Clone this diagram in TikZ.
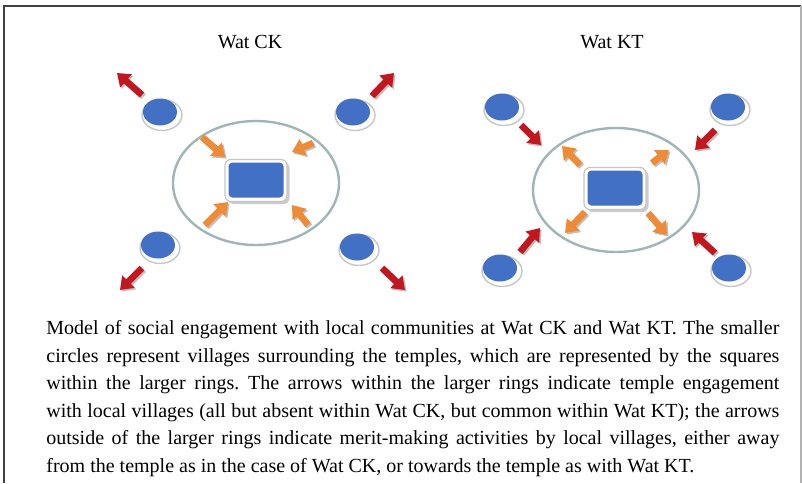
\documentclass[tikz,border=0pt]{standalone}
\usepackage{fontspec}
\setmainfont{Liberation Serif}
\usetikzlibrary{calc,shapes.geometric,arrows.meta}

\definecolor{villageblue}{RGB}{66,112,196}
\definecolor{ringgray}{RGB}{160,182,182}
\definecolor{meritred}{RGB}{196,22,30}
\definecolor{reachorange}{RGB}{240,138,52}

\tikzset{
  village/.style={ellipse, fill=villageblue, minimum width=17pt, minimum height=13.5pt, inner sep=0pt},
  rim/.style={ellipse, fill=white, draw=gray!45, line width=0.7pt, minimum width=20pt, minimum height=15.5pt, inner sep=0pt},
  ring/.style={ellipse, draw=ringgray, line width=1.2pt, minimum width=83pt, minimum height=62pt, inner sep=0pt},
  temple/.style={rectangle, rounded corners=2pt, fill=villageblue, minimum width=27.5pt, minimum height=17.5pt, inner sep=0pt},
  templerim/.style={rectangle, rounded corners=3pt, fill=white, draw=gray!45, line width=0.6pt, minimum width=31pt, minimum height=21pt, inner sep=0pt},
  blockarrow/.style={line width=3.3pt, -{Triangle[length=6pt,width=8.5pt]},
    preaction={draw=gray!50, line width=3.3pt, -{Triangle[length=6pt,width=8.5pt]}, transform canvas={shift={(0.8pt,-0.8pt)}}}},
  outarrow/.style={blockarrow, draw=meritred},
  inarrow/.style={blockarrow, draw=reachorange},
  title/.style={inner sep=0pt, font=\fontsize{10}{12}\selectfont},
  caption/.style={text width=366.5pt, align=justify, inner sep=0pt, font=\fontsize{10}{13.8}\selectfont\frenchspacing},
}

\begin{document}
\begin{tikzpicture}[x=0.5pt,y=-0.5pt]
  \useasboundingbox (0,0) rectangle (802,483);
  % frame
  \draw[line width=1pt, black!75] (4,483) -- (4,6) -- (801,6);
  \draw[line width=0.8pt, black!30] (801,6) -- (801,483);

  \node[title] (ckTitle) at (250,42) {Wat CK};
  \node[title] (ktTitle) at (612,42) {Wat KT};

  % rings with the temples in the middle
  \node[ring] (ckRing) at (256,183) {};
  \node[ring] (ktRing) at (616,190) {};
  \foreach \t/\x/\y in {ckTemple/256/180, ktTemple/615/188}{
    \node[templerim, fill=gray!40, draw=none] (\t-shade) at (\x+2.5,\y+3) {};
    \node[templerim] (\t-rim) at (\x,\y+0.5) {};
    \node[temple] (\t) at (\x,\y) {};
  }

  % villages
  \foreach \v/\x/\y in {ckNW/160/112, ckNE/353/112, ckSW/158/245, ckSE/357/247,
                        ktNW/502/107, ktNE/728/107, ktSW/500/268, ktSE/729/268}{
    \node[rim] (\v-rim) at (\x+2,\y+3) {};
    \node[village] (\v) at (\x,\y) {};
  }

  % merit-making arrows (red)
  \foreach \v/\ax/\ay/\bx/\by in {ckNW/-18/-17/-43/-39, ckNE/19/-16/41/-39,
                                  ckSW/-16/23/-38/45, ckSE/25/21/48/43,
                                  ktNW/19/18/39/38, ktNE/-13/23/-33/43,
                                  ktSW/20/-16/40/-40, ktSE/-14/-15/-37/-36}
    \draw[outarrow] ($(\v)+(\ax,\ay)$) -- ($(\v)+(\bx,\by)$);

  % temple engagement arrows (orange)
  \foreach \t/\ax/\ay/\bx/\by in {ckTemple/-54/-43/-31/-23, ckTemple/57/-37/36/-28,
                                  ckTemple/-51/45/-28/22, ckTemple/52/45/36/25,
                                  ktTemple/-35/-23/-53/-42, ktTemple/37/-25/54/-38,
                                  ktTemple/-30/24/-50/45, ktTemple/33/25/52/47}
    \draw[inarrow] ($(\t)+(\ax,\ay)$) -- ($(\t)+(\bx,\by)$);

  \node[caption, anchor=north west] (note) at (46,320) {Model of social engagement with local communities at Wat CK and Wat KT. The smaller\linebreak
  circles represent villages surrounding the temples, which are represented by the squares\linebreak
  within the larger rings. The arrows within the larger rings indicate temple engagement\linebreak
  with local villages (all but absent within Wat CK, but common within Wat KT); the arrows\linebreak
  outside of the larger rings indicate merit-making activities by local villages, either away\linebreak
  from the temple as in the case of Wat CK, or towards the temple as with Wat KT.};
\end{tikzpicture}
\end{document}
